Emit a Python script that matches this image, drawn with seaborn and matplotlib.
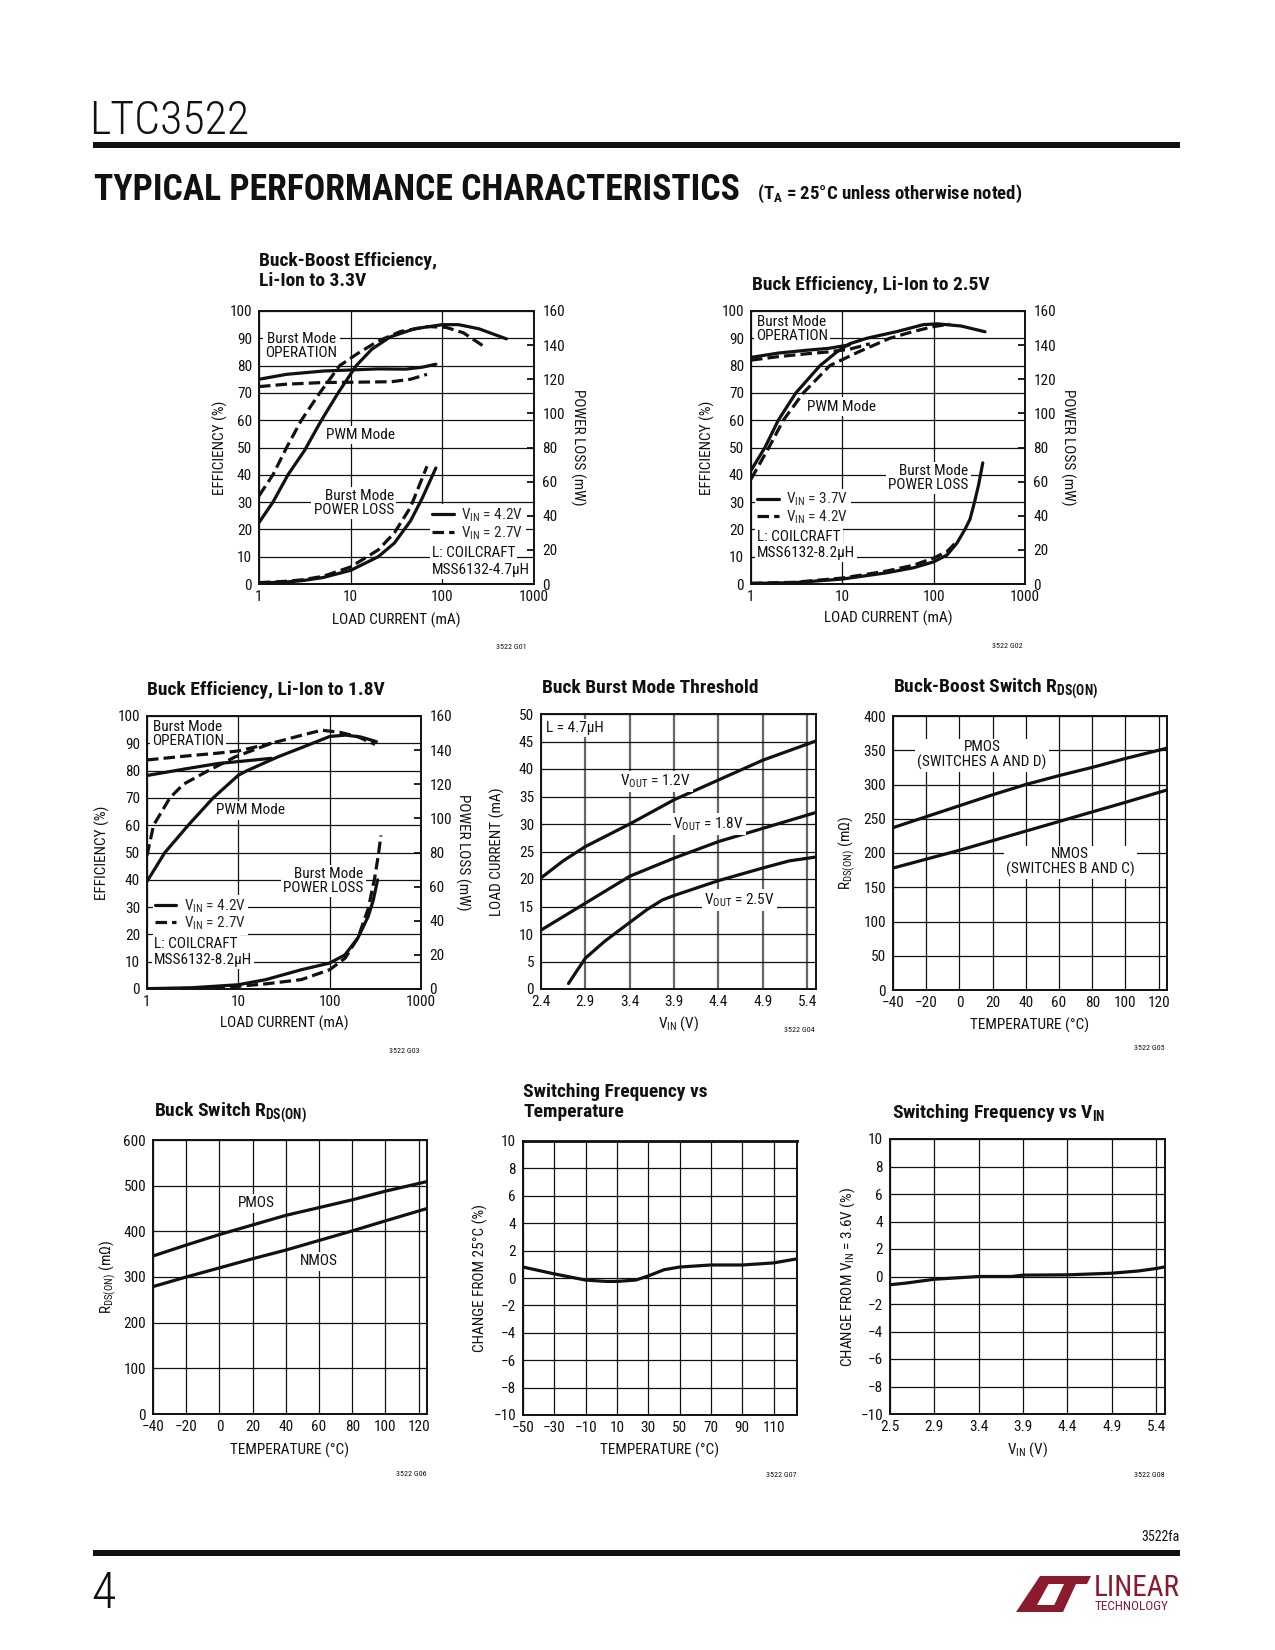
"""LTC3522 datasheet page 4: typical performance characteristics."""
import matplotlib
matplotlib.use("Agg")
import matplotlib.pyplot as plt
import seaborn as sns
from matplotlib import font_manager
from matplotlib.lines import Line2D
from matplotlib.patches import Polygon, Rectangle
from matplotlib.ticker import NullLocator

# ---------------- data ----------------
# G01 buck-boost efficiency, Li-Ion to 3.3V (VIN 4.2V solid, 2.7V dashed)
g01_burst42_x = [1, 2, 5, 10, 20, 40, 60, 85]
g01_burst42_y = [75.0, 76.8, 78.0, 78.4, 78.8, 78.7, 79.4, 80.5]
g01_burst27_x = [1, 2, 5, 10, 28, 45, 68]
g01_burst27_y = [72.3, 73.2, 73.8, 73.9, 74.1, 75.0, 76.8]
g01_pwm42_x = [1, 1.42, 2.07, 3.15, 4.8, 7.3, 11.5, 17, 27, 50, 100, 150, 250, 500]
g01_pwm42_y = [22.5, 30, 40, 49, 60, 70, 80, 86, 90.5, 93.5, 95, 95, 93.5, 89.8]
g01_pwm27_x = [1, 1.42, 2, 2.9, 4.6, 7.6, 12, 20, 35, 70, 110, 170, 300]
g01_pwm27_y = [32.3, 40, 50, 60, 70, 80, 84.5, 89, 92.5, 94.3, 94, 92, 86.5]
g01_loss42_x = [1, 2, 3, 5, 10, 20, 30, 45, 60, 85]
g01_loss42_y = [0.5, 1.2, 2, 3.8, 8, 16, 24, 37, 50, 68]
g01_loss27_x = [1, 2, 3, 5, 10, 20, 30, 45, 68]
g01_loss27_y = [0.8, 1.6, 2.5, 4.5, 10, 20, 30, 45, 69]

# G02 buck efficiency, Li-Ion to 2.5V (VIN 3.7V solid, 4.2V dashed)
g02_burst37_x = [1, 2, 4, 7, 12]
g02_burst37_y = [83, 84.6, 85.6, 86.3, 87.6]
g02_burst42_x = [1, 2, 4, 7, 12, 20]
g02_burst42_y = [82, 83.3, 84.3, 85, 86, 88]
g02_pwm37_x = [1, 1.42, 1.99, 3.1, 5.7, 8.7, 12, 18.5, 40, 77, 110, 200, 365]
g02_pwm37_y = [41.6, 50, 60, 70, 80, 85, 88, 90, 92.5, 95, 95.3, 94.5, 92.4]
g02_pwm42_x = [1, 1.57, 2.26, 3.74, 7.3, 15, 33, 60, 100, 150]
g02_pwm42_y = [38.4, 50, 60, 70, 80, 85, 90, 92.5, 94.3, 95.2]
g02_loss37_x = [1, 3, 10, 30, 60, 100, 140, 180, 220, 250, 280, 310, 345]
g02_loss37_y = [0.3, 0.8, 2.9, 6.5, 9.5, 13, 17, 24, 32, 38, 48, 58, 71]
g02_loss42_x = [1, 3, 10, 30, 60, 100, 140, 180]
g02_loss42_y = [0.4, 1.0, 3.5, 7.5, 11, 15.2, 19, 25]

# G03 buck efficiency, Li-Ion to 1.8V (VIN 4.2V solid, 2.7V dashed)
g03_burst42_x = [1, 2.6, 6, 10, 23]
g03_burst42_y = [78.2, 80.6, 82.6, 83.3, 84.5]
g03_pwm42_x = [1, 1.57, 2.83, 5.3, 10, 12.5, 27, 50, 100, 150, 220, 325]
g03_pwm42_y = [39.4, 50, 60, 70, 78.3, 80, 85, 88.5, 92.5, 93, 92.3, 90.6]
g03_burst27_x = [1, 3, 6, 10, 23]
g03_burst27_y = [83.9, 85.5, 86.4, 87.2, 90]
g03_pwm27_x = [1, 1.18, 1.78, 2.5, 4.7, 9.2, 23, 50, 82, 130, 200, 314]
g03_pwm27_y = [48.9, 60, 70, 75, 80, 85, 90, 93, 94.8, 94, 92.5, 89.6]
g03_loss42_x = [1, 3, 10, 20, 49, 100, 147, 204, 264, 300, 335]
g03_loss42_y = [0.2, 0.7, 2.5, 5.5, 11.3, 15.2, 20, 30, 42.5, 52, 64]
g03_loss27_x = [1, 3, 10, 20, 49, 100, 147, 204, 264, 311, 340, 364]
g03_loss27_y = [0.1, 0.4, 1.6, 3, 5.5, 11.3, 18, 30, 47, 65, 78, 90]

# G04 buck Burst Mode threshold vs VIN
g04_v12_x = [2.4, 2.65, 2.9, 3.4, 3.9, 4.4, 4.9, 5.5]
g04_v12_y = [20.2, 23.3, 25.9, 30, 34.4, 38, 41.6, 45.1]
g04_v18_x = [2.4, 2.9, 3.4, 3.9, 4.4, 4.9, 5.5]
g04_v18_y = [10.7, 15.6, 20.5, 23.8, 26.8, 29.2, 32.1]
g04_v25_x = [2.71, 2.8, 2.9, 3.12, 3.4, 3.6, 3.77, 3.9, 4.4, 4.9, 5.2, 5.5]
g04_v25_y = [1.0, 3.2, 5.6, 8.7, 12.1, 14.5, 16.2, 17, 19.7, 22, 23.3, 24]

# G05 buck-boost switch RDS(ON) vs temperature
g05_temp = [-40, -20, 0, 20, 40, 60, 80, 100, 125]
g05_pmos = [237, 253, 269, 285, 300, 313, 325, 338, 353]
g05_nmos = [178, 191, 204, 218, 232, 246, 260, 274, 292]

# G06 buck switch RDS(ON) vs temperature
g06_temp = [-40, -20, 0, 20, 40, 60, 80, 100, 125]
g06_pmos = [346, 370, 393, 414, 435, 452, 469, 488, 509]
g06_nmos = [279, 300, 320, 340, 359, 380, 401, 423, 450]

# G07 switching frequency vs temperature
g07_temp = [-50, -30, -10, 3, 10, 22, 30, 40, 50, 70, 90, 110, 125]
g07_change = [0.8, 0.3, -0.15, -0.25, -0.25, -0.15, 0.15, 0.6, 0.8, 0.95, 0.95, 1.1, 1.4]

# G08 switching frequency vs VIN
g08_vin = [2.4, 2.58, 2.9, 3.4, 3.77, 3.9, 4.4, 4.9, 5.2, 5.4, 5.5]
g08_change = [-0.6, -0.48, -0.2, 0, 0, 0.1, 0.12, 0.24, 0.4, 0.58, 0.7]

# axis ticks / labels
log_ticks = [1, 10, 100, 1000]
log_labels = ["1", "10", "100", "1000"]
vin_ticks = [2.4, 2.9, 3.4, 3.9, 4.4, 4.9, 5.4]
vin_labels = ["2.4", "2.9", "3.4", "3.9", "4.4", "4.9", "5.4"]
vin_labels_g08 = ["2.5", "2.9", "3.4", "3.9", "4.4", "4.9", "5.4"]
temp_ticks = [-40, -20, 0, 20, 40, 60, 80, 100, 120]
temp_ticks_g07 = [-50, -30, -10, 10, 30, 50, 70, 90, 110]

# ---------------- style ----------------
sns.set_theme(style="white")
names = {f.name for f in font_manager.fontManager.ttflist}
narrow = [n for n in ("Liberation Sans Narrow", "Roboto Condensed", "Arial Narrow",
                      "Nimbus Sans Narrow") if n in names]
FONT = narrow[0] if narrow else "Liberation Sans"
K = 1.0 if narrow else 0.87
plt.rcParams.update({
    "font.family": [FONT, "DejaVu Sans"],
    "mathtext.fontset": "custom",
    "mathtext.rm": FONT,
    "mathtext.it": FONT + ":italic",
    "mathtext.bf": FONT + ":bold",
    "axes.unicode_minus": True,
})
INK = "#111111"
RED = "#8b1a2e"
FS = 11 * K
LW = 2.3
DASH = (0, (3.6, 1.6))

W, H = 1275, 1650
fig = plt.figure(figsize=(W / 100, H / 100), dpi=100)


def px(x, y):
    return x / W, 1 - y / H


def panel(l, t, r, b):
    return fig.add_axes([l / W, 1 - b / H, (r - l) / W, (b - t) / H])


def curve(ax, x, y, dashed=False):
    sns.lineplot(x=x, y=y, ax=ax, color=INK, lw=LW, estimator=None, sort=False,
                 linestyle=DASH if dashed else "-")


def style(ax, xlim, ylim, xticks, yticks, xlabels=None, log=False):
    if log:
        ax.set_xscale("log")
        ax.xaxis.set_minor_locator(NullLocator())
    ax.set_xlim(*xlim)
    ax.set_ylim(*ylim)
    ax.set_xticks(xticks)
    ax.set_yticks(yticks)
    if xlabels is not None:
        ax.set_xticklabels(xlabels)
    ax.grid(True, color=INK, lw=0.9)
    ax.set_axisbelow(True)
    ax.tick_params(length=0, labelsize=FS, labelcolor=INK, pad=4)
    ax.tick_params(axis="y", pad=5)
    for sp in ax.spines.values():
        sp.set_visible(True)
        sp.set_color(INK)
        sp.set_linewidth(1.4)


def labels(ax, xlabel, ylabel, ylab_x, xlab_y=-0.128):
    ax.set_xlabel(xlabel, fontsize=FS, color=INK, va="center")
    ax.xaxis.set_label_coords(0.5, xlab_y)
    ax.set_ylabel(ylabel, fontsize=FS, color=INK, va="center")
    ax.yaxis.set_label_coords(ylab_x, 0.5)


def note(ax, x, y, s, ha="center", transform=None):
    ax.text(x, y, s, ha=ha, va="center", multialignment=ha, fontsize=FS, color=INK,
            linespacing=1.0, zorder=4, transform=transform or ax.transData,
            bbox=dict(facecolor="white", edgecolor="none", pad=1.5))


def title(x, y, s):
    fig.text(*px(x, y), s, fontsize=14 * K, fontweight="bold", color=INK,
             ha="left", va="center", linespacing=1.1)


def code(x, y, s):
    fig.text(*px(x, y), s, fontsize=5.8 * K, color=INK, ha="right", va="center")


def loss_axis(ax, ylab_x):
    ax2 = ax.twinx()
    ax2.set_ylim(0, 160)
    ax2.set_yticks(range(0, 161, 20))
    ax2.grid(False)
    ax2.tick_params(axis="y", direction="in", length=5, width=1.3, color=INK,
                    labelsize=FS, labelcolor=INK, pad=6)
    for sp in ax2.spines.values():
        sp.set_visible(False)
    ax2.set_ylabel("POWER LOSS (mW)", fontsize=FS, color=INK, rotation=270, va="center")
    ax2.yaxis.set_label_coords(ylab_x, 0.5)
    return ax2


def efficiency_legend(ax, x, y, lab1, lab2, coil, lx, ly1, ly2):
    handles = [Line2D([], [], color=INK, lw=LW), Line2D([], [], color=INK, lw=LW, linestyle=DASH)]
    leg = ax.legend(handles, [lab1, lab2], loc="upper left", bbox_to_anchor=(x, y),
                    fontsize=FS, handlelength=1.4, handletextpad=0.5, labelspacing=0.02,
                    borderpad=0.15, borderaxespad=0, frameon=True, fancybox=False,
                    framealpha=1)
    leg.get_frame().set_edgecolor("none")
    leg.set_zorder(5)
    note(ax, lx, ly1, "L: COILCRAFT", ha="left", transform=ax.transAxes)
    note(ax, lx, ly2, coil, ha="left", transform=ax.transAxes)


vin = lambda v: "V$_{\\mathrm{IN}}$ = " + v
vout = lambda v: "V$_{\\mathrm{OUT}}$ = " + v

# ---------------- page header ----------------
fig.text(*px(89, 121), "LTC3522", fontsize=33 * K, fontweight="light", color=INK,
         ha="left", va="center")
fig.add_artist(Rectangle(px(93, 148), 1087 / W, 6 / H, transform=fig.transFigure,
                         facecolor=INK, edgecolor="none"))
fig.text(*px(94, 190), "TYPICAL PERFORMANCE CHARACTERISTICS", fontsize=25.7 * K,
         fontweight="black", color=INK, ha="left", va="center")
fig.text(*px(757, 194), "(T$_{\\mathbf{A}}$ = 25°C unless otherwise noted)", fontsize=13.5 * K,
         fontweight="bold", color=INK, ha="left", va="center")

# ---------------- G01 ----------------
ax = panel(259, 311, 534, 584)
curve(ax, g01_burst42_x, g01_burst42_y)
curve(ax, g01_burst27_x, g01_burst27_y, dashed=True)
curve(ax, g01_pwm42_x, g01_pwm42_y)
curve(ax, g01_pwm27_x, g01_pwm27_y, dashed=True)
style(ax, (1, 1000), (0, 100), log_ticks, range(0, 101, 10), log_labels, log=True)
note(ax, 2.9, 87, "Burst Mode\nOPERATION")
note(ax, 12.7, 54.6, "PWM Mode")
note(ax, 29.7, 29.6, "Burst Mode\nPOWER LOSS", ha="right")
ax2 = loss_axis(ax, 1.16)
curve(ax2, g01_loss42_x, g01_loss42_y)
curve(ax2, g01_loss27_x, g01_loss27_y, dashed=True)
ax2.set_ylim(0, 160)
efficiency_legend(ax2, 0.622, 0.292, vin("4.2V"), vin("2.7V"), "MSS6132-4.7µH", 0.628, 0.113, 0.052)
labels(ax, "LOAD CURRENT (mA)", "EFFICIENCY (%)", -0.142, -0.132)
title(259, 271, "Buck-Boost Efficiency,\nLi-Ion to 3.3V")
code(527, 647, "3522 G01")

# ---------------- G02 ----------------
ax = panel(751, 311, 1025, 584)
curve(ax, g02_burst37_x, g02_burst37_y)
curve(ax, g02_burst42_x, g02_burst42_y, dashed=True)
curve(ax, g02_pwm37_x, g02_pwm37_y)
curve(ax, g02_pwm42_x, g02_pwm42_y, dashed=True)
style(ax, (1, 1000), (0, 100), log_ticks, range(0, 101, 10), log_labels, log=True)
note(ax, 2.79, 93.4, "Burst Mode\nOPERATION")
note(ax, 9.8, 65, "PWM Mode")
note(ax, 240, 38.8, "Burst Mode\nPOWER LOSS", ha="right")
ax2 = loss_axis(ax, 1.157)
curve(ax2, g02_loss37_x, g02_loss37_y)
curve(ax2, g02_loss42_x, g02_loss42_y, dashed=True)
ax2.set_ylim(0, 160)
efficiency_legend(ax2, 0.015, 0.349, vin("3.7V"), vin("4.2V"), "MSS6132-8.2µH", 0.022, 0.172, 0.113)
labels(ax, "LOAD CURRENT (mA)", "EFFICIENCY (%)", -0.161, -0.125)
title(752, 285, "Buck Efficiency, Li-Ion to 2.5V")
code(1023, 646, "3522 G02")

# ---------------- G03 ----------------
ax = panel(147, 716, 421, 989)
curve(ax, g03_burst42_x, g03_burst42_y)
curve(ax, g03_burst27_x, g03_burst27_y, dashed=True)
curve(ax, g03_pwm42_x, g03_pwm42_y)
curve(ax, g03_pwm27_x, g03_pwm27_y, dashed=True)
style(ax, (1, 1000), (0, 100), log_ticks, range(0, 101, 10), log_labels, log=True)
note(ax, 2.79, 93.4, "Burst Mode\nOPERATION")
note(ax, 13.6, 65.4, "PWM Mode")
note(ax, 234, 39.6, "Burst Mode\nPOWER LOSS", ha="right")
ax2 = loss_axis(ax, 1.153)
curve(ax2, g03_loss42_x, g03_loss42_y)
curve(ax2, g03_loss27_x, g03_loss27_y, dashed=True)
ax2.set_ylim(0, 160)
efficiency_legend(ax2, 0.021, 0.345, vin("4.2V"), vin("2.7V"), "MSS6132-8.2µH", 0.026, 0.166, 0.107)
labels(ax, "LOAD CURRENT (mA)", "EFFICIENCY (%)", -0.164, -0.125)
title(147, 690, "Buck Efficiency, Li-Ion to 1.8V")
code(420, 1051, "3522 G03")

# ---------------- G04 ----------------
ax = panel(541, 714, 816, 989)
curve(ax, g04_v12_x, g04_v12_y)
curve(ax, g04_v18_x, g04_v18_y)
curve(ax, g04_v25_x, g04_v25_y)
style(ax, (2.4, 5.5), (0, 50), vin_ticks, range(0, 51, 5), vin_labels)
ax.xaxis.grid(True, color="#666666", lw=1.6)
note(ax, 2.46, 47.5, "L = 4.7µH", ha="left")
note(ax, 3.69, 37.7, vout("1.2V"))
note(ax, 4.29, 30, vout("1.8V"))
note(ax, 4.64, 16.2, vout("2.5V"))
labels(ax, "V$_{\\mathrm{IN}}$ (V)", "LOAD CURRENT (mA)", -0.16, -0.125)
title(542, 688, "Buck Burst Mode Threshold")
code(815, 1030, "3522 G04")

# ---------------- G05 ----------------
ax = panel(893, 716, 1167, 990)
curve(ax, g05_temp, g05_pmos)
curve(ax, g05_temp, g05_nmos)
style(ax, (-40, 125), (0, 400), temp_ticks, range(0, 401, 50))
note(ax, 13.6, 343, "PMOS\n(SWITCHES A AND D)")
note(ax, 66.8, 187, "NMOS\n(SWITCHES B AND C)")
labels(ax, "TEMPERATURE (°C)", "R$_{\\mathrm{DS(ON)}}$ (mΩ)", -0.168, -0.128)
title(893, 689, "Buck-Boost Switch R$_{\\mathbf{DS(ON)}}$")
code(1165, 1048, "3522 G05")

# ---------------- G06 ----------------
ax = panel(153, 1140, 427, 1414)
curve(ax, g06_temp, g06_pmos)
curve(ax, g06_temp, g06_nmos)
style(ax, (-40, 125), (0, 600), temp_ticks, range(0, 601, 100))
note(ax, 22, 461, "PMOS")
note(ax, 60, 334, "NMOS")
labels(ax, "TEMPERATURE (°C)", "R$_{\\mathrm{DS(ON)}}$ (mΩ)", -0.164, -0.131)
title(154, 1113, "Buck Switch R$_{\\mathbf{DS(ON)}}$")
code(427, 1474, "3522 G06")

# ---------------- G07 ----------------
ax = panel(523, 1141, 797, 1415)
curve(ax, g07_temp, g07_change)
style(ax, (-50, 125), (-10, 10), temp_ticks_g07, range(-10, 11, 2))
ax.spines["top"].set_linewidth(2.0)
labels(ax, "TEMPERATURE (°C)", "CHANGE FROM 25°C (%)", -0.157, -0.128)
title(523, 1102, "Switching Frequency vs\nTemperature")
code(797, 1475, "3522 G07")

# ---------------- G08 ----------------
ax = panel(890, 1139, 1165, 1414)
curve(ax, g08_vin, g08_change)
style(ax, (2.4, 5.5), (-10, 10), vin_ticks, range(-10, 11, 2), vin_labels_g08)
labels(ax, "V$_{\\mathrm{IN}}$ (V)", "CHANGE FROM V$_{\\mathrm{IN}}$ = 3.6V (%)", -0.156, -0.131)
title(892, 1113, "Switching Frequency vs V$_{\\mathbf{IN}}$")
code(1165, 1475, "3522 G08")

# ---------------- page footer ----------------
fig.text(*px(1180, 1537), "3522fa", fontsize=10 * K, color=INK, ha="right", va="center")
fig.add_artist(Rectangle(px(93, 1556), 1087 / W, 6 / H, transform=fig.transFigure,
                         facecolor=INK, edgecolor="none"))
fig.text(*px(91, 1594), "4", fontsize=36 * K, fontweight="light", color=INK,
         ha="left", va="center")
for shape in (
    [(1040, 1576), (1053, 1576), (1037, 1605), (1061, 1605), (1057, 1612), (1016, 1612)],
    [(1050, 1576), (1091, 1576), (1087, 1584), (1076, 1584), (1063, 1612), (1051, 1612),
     (1064, 1584), (1046, 1584)],
):
    fig.add_artist(Polygon([px(x, y) for x, y in shape], closed=True,
                           transform=fig.transFigure, facecolor=RED, edgecolor="none"))
fig.text(*px(1094, 1588), "LINEAR", fontsize=21 * K, color=RED, ha="left", va="center")
fig.text(*px(1095, 1606), "TECHNOLOGY", fontsize=9.5 * K, color=RED, ha="left", va="center")

fig.savefig("out.png", dpi=100)
plt.close(fig)
